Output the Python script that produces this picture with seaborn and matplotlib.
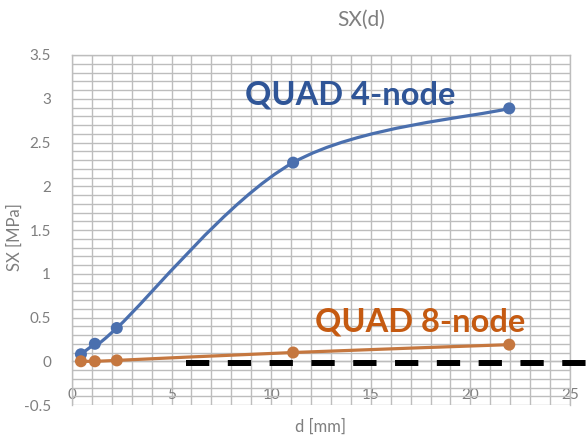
import numpy as np
import pandas as pd
import seaborn as sns
import matplotlib.pyplot as plt
import matplotlib.ticker as ticker
from matplotlib.path import Path
from matplotlib.patches import PathPatch

# displacement d [mm] and stress SX [MPa]
d_mm = [0.45, 1.15, 2.25, 11.1, 21.95]
sx_quad4 = [0.08, 0.20, 0.38, 2.27, 2.89]
sx_quad8 = [0.0, 0.0, 0.01, 0.10, 0.19]

# black dashed reference line
ref_x = [5.7, 25.9]
ref_y = [-0.02, -0.02]

x_ticks = [0, 5, 10, 15, 20, 25]
y_ticks = [-0.5, 0, 0.5, 1, 1.5, 2, 2.5, 3, 3.5]

BLUE = '#4a6fae'
ORANGE = '#c5773f'
GREY = '#7f7f7f'
GRID = '#bdbdbd'


def smooth_path(x, y):
    """Excel-like smoothed line: Catmull-Rom segments as cubic Bezier curves."""
    pts = np.column_stack([x, y])
    verts = [pts[0]]
    codes = [Path.MOVETO]
    n = len(pts)
    for i in range(n - 1):
        p0 = pts[max(i - 1, 0)]
        p1 = pts[i]
        p2 = pts[i + 1]
        p3 = pts[min(i + 2, n - 1)]
        c1 = p1 + (p2 - p0) / 6.0
        c2 = p2 - (p3 - p1) / 6.0
        verts += [c1, c2, p2]
        codes += [Path.CURVE4] * 3
    return Path(verts, codes)


sns.set_style('white')
plt.rcParams['font.family'] = ['Lato', 'DejaVu Sans']

fig = plt.figure(figsize=(5.88, 4.40), dpi=100)
ax = fig.add_axes([0.1224, 0.0795, 0.847, 0.7955])

df = pd.DataFrame({'d': d_mm + d_mm,
                   'sx': sx_quad4 + sx_quad8,
                   'model': ['QUAD 4-node'] * len(d_mm) + ['QUAD 8-node'] * len(d_mm)})

for model, color in [('QUAD 4-node', BLUE), ('QUAD 8-node', ORANGE)]:
    sub = df[df.model == model]
    ax.add_patch(PathPatch(smooth_path(sub.d.values, sub.sx.values), facecolor='none',
                           edgecolor=color, lw=2.3, zorder=3, capstyle='round'))

sns.scatterplot(data=df, x='d', y='sx', hue='model', palette=[BLUE, ORANGE],
                s=75, edgecolor='none', legend=False, zorder=4, ax=ax)

ax.plot(ref_x, ref_y, color='black', lw=4.3, dashes=(3.9, 3.1), clip_on=False, zorder=5)

ax.set_xlim(0, 25)
ax.set_ylim(-0.5, 3.5)
ax.set_xticks(x_ticks)
ax.set_yticks(y_ticks)
ax.set_yticklabels(['-0.5', '0', '0.5', '1', '1.5', '2', '2.5', '3', '3.5'])
ax.xaxis.set_minor_locator(ticker.MultipleLocator(1))
ax.yaxis.set_minor_locator(ticker.MultipleLocator(0.1))
ax.grid(True, which='both', color=GRID, lw=1.0)
ax.set_axisbelow(True)

for side in ['top', 'right', 'left', 'bottom']:
    ax.spines[side].set_color(GRID)
    ax.spines[side].set_linewidth(1.0)
ax.spines['bottom'].set_position(('data', 0))

ax.tick_params(axis='x', which='both', length=0, pad=19, labelsize=11, labelcolor=GREY)
ax.tick_params(axis='y', which='both', length=0, pad=15, labelsize=11, labelcolor=GREY)

ax.set_xlabel('d [mm]', fontsize=12, color=GREY)
ax.xaxis.set_label_coords(0.5, -0.04)
ax.set_ylabel('SX [MPa]', fontsize=12, color=GREY)
ax.yaxis.set_label_coords(-0.098, 0.48)
fig.text(0.615, 0.955, 'SX(d)', fontsize=15, color=GREY, ha='center', va='center')

ax.text(8.7, 2.93, 'QUAD 4-node', fontsize=23.5, fontweight='bold', color='#2f5597',
        va='baseline', zorder=6)
ax.text(12.2, 0.335, 'QUAD 8-node', fontsize=23.5, fontweight='bold', color='#c55a11',
        va='baseline', zorder=6)

fig.savefig('out.png', dpi=100)
